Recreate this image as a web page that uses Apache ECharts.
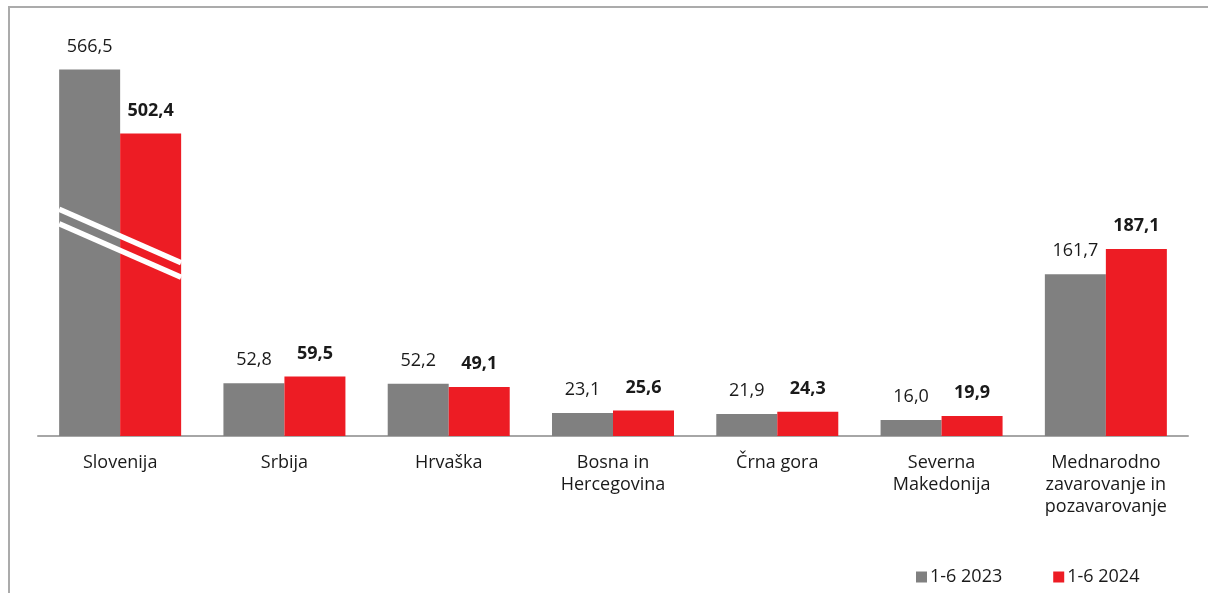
<!DOCTYPE html>
<html>
<head>
<meta charset="utf-8">
<script src="https://cdn.jsdelivr.net/npm/echarts@6.0.0/dist/echarts.min.js"></script>
<style>
  html, body { margin: 0; padding: 0; background: #fff; }
  #chart { width: 1208px; height: 593px; }
</style>
</head>
<body>
<div id="chart"></div>
<script>
const categories = ['Slovenija', 'Srbija', 'Hrvaška', 'Bosna in\nHercegovina', 'Črna gora', 'Severna\nMakedonija', 'Mednarodno\nzavarovanje in\npozavarovanje'];
const seriesNames = ['1-6 2023', '1-6 2024'];
const values2023 = [566.5, 52.8, 52.2, 23.1, 21.9, 16.0, 161.7];
const values2024 = [502.4, 59.5, 49.1, 25.6, 24.3, 19.9, 187.1];
const axisBreak = { start: 193, end: 393 };
const breakMarks = [[0, axisBreak.start]];

const FONT = 'Open Sans';
const fmt = p => p.value.toFixed(1).replace('.', ',');

const chart = echarts.init(document.getElementById('chart'), null, { renderer: 'canvas' });
chart.setOption({
  animation: false,
  backgroundColor: '#fff',
  textStyle: { fontFamily: FONT },
  graphic: [{
    type: 'rect', silent: true, z: -1,
    shape: { x: 9, y: 7, width: 1400, height: 800 },
    style: { fill: 'none', stroke: '#ababab', lineWidth: 2 }
  }],
  grid: { left: 38, right: 20, top: 36, bottom: 157, containLabel: false },
  legend: {
    data: seriesNames,
    left: 911, top: 563,
    icon: 'rect', itemWidth: 11, itemHeight: 11, itemGap: 51,
    textStyle: { fontFamily: FONT, fontSize: 18, color: '#1a1a1a', padding: [0, 0, 0, -2] }
  },
  xAxis: {
    type: 'category', data: categories,
    axisLine: { lineStyle: { color: '#a6a6a6', width: 2 } },
    axisTick: { show: false },
    axisLabel: { fontFamily: FONT, fontSize: 18, color: '#1a1a1a', margin: 16, lineHeight: 22, interval: 0 }
  },
  yAxis: {
    type: 'value', min: 0, max: 600,
    breaks: [{ start: axisBreak.start, end: axisBreak.end, gap: 0 }],
    breakArea: { show: false },
    show: false, splitLine: { show: false }
  },
  series: [
    {
      name: seriesNames[0], type: 'bar', data: values2023,
      barWidth: 61, barGap: '0%',
      itemStyle: { color: '#808080' },
      label: { show: true, position: 'top', distance: 14, formatter: fmt,
        fontFamily: FONT, fontSize: 18, color: '#1a1a1a' }
    },
    {
      name: seriesNames[1], type: 'bar', data: values2024,
      barWidth: 61, barGap: '0%',
      itemStyle: { color: '#ED1C24' },
      label: { show: true, position: 'top', distance: 14, formatter: fmt,
        fontFamily: FONT, fontSize: 18, fontWeight: 'bold', color: '#1a1a1a' }
    },
    {
      type: 'custom', data: breakMarks, z: 10, silent: true,
      renderItem: function (params, api) {
        const c = api.coord([api.value(0), api.value(1)]);
        const half = 61, slope = 0.44;
        const mk = off => ({
          type: 'line',
          shape: { x1: c[0] - half, y1: c[1] + off - slope * half, x2: c[0] + half, y2: c[1] + off + slope * half },
          style: { stroke: '#fff', lineWidth: 5.5 }
        });
        return { type: 'group', children: [mk(-7), mk(7.5)] };
      }
    }
  ]
});
</script>
</body>
</html>
